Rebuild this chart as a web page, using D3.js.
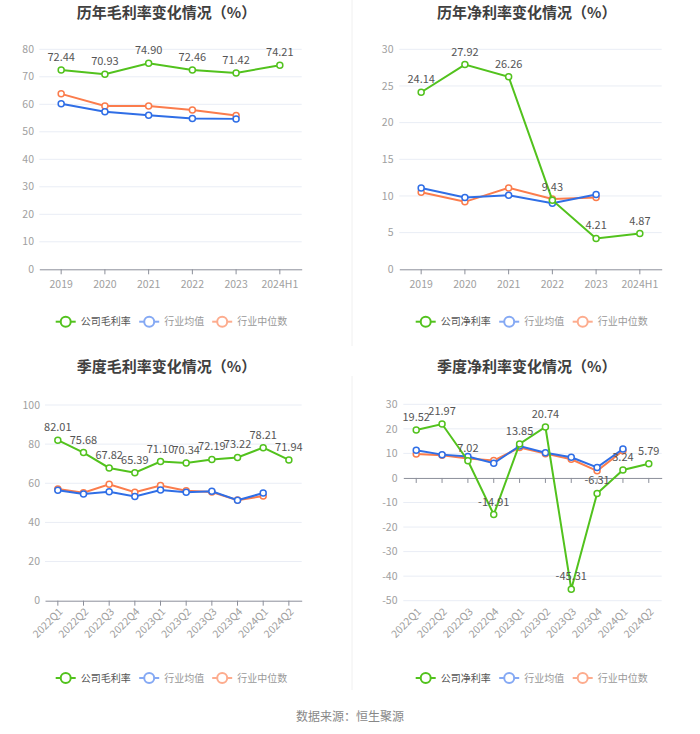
<!DOCTYPE html>
<html>
<head>
<meta charset="utf-8">
<script src="https://cdn.jsdelivr.net/npm/d3@7"></script>
<style>
body { margin:0; background:#fff; }
svg { font-family: "Noto Sans CJK SC", "Noto Sans", sans-serif; }
.title { font-size:15px; font-weight:bold; fill:#404040; text-anchor:middle; }
.ylab { font-size:10.5px; fill:#a0a0a0; text-anchor:end; }
.xlab text { font-size:10.5px; fill:#a0a0a0; }
.vlab { font-size:11px; fill:#555; text-anchor:middle; }
.grid { stroke:#e9edf5; stroke-width:1; }
.legtxt { font-size:10px; }
</style>
</head>
<body>
<div id="chart"></div>
<script>
// categorias
var years = ["2019","2020","2021","2022","2023","2024H1"];
var quarters = ["2022Q1","2022Q2","2022Q3","2022Q4","2023Q1","2023Q2","2023Q3","2023Q4","2024Q1","2024Q2"];

// 历年毛利率
var grossYearCompany = [72.44,70.93,74.90,72.46,71.42,74.21];
var grossYearAvg = [60.2,57.3,56.0,54.8,54.7];
var grossYearMedian = [63.8,59.4,59.4,57.9,55.9];

// 历年净利率
var netYearCompany = [24.14,27.92,26.26,9.43,4.21,4.87];
var netYearAvg = [11.1,9.8,10.1,9.0,10.2];
var netYearMedian = [10.5,9.2,11.1,9.6,9.8];

// 季度毛利率
var grossQCompany = [82.01,75.68,67.82,65.39,71.10,70.34,72.19,73.22,78.21,71.94];
var grossQAvg = [56.4,54.5,55.7,53.3,56.6,55.4,55.9,51.3,55.0];
var grossQMedian = [57.1,55.2,59.5,55.4,58.9,56.2,55.5,51.4,53.5];

// 季度净利率
var netQCompany = [19.52,21.97,7.02,-14.91,13.85,20.74,-45.31,-6.31,3.24,5.79];
var netQAvg = [11.3,9.5,8.7,6.0,13.0,10.3,8.4,4.3,11.8];
var netQMedian = [9.8,9.2,7.9,7.1,12.4,9.9,7.6,2.9,11.1];

// ticks
var ticksGrossYear = [0,10,20,30,40,50,60,70,80];
var ticksNetYear = [0,5,10,15,20,25,30];
var ticksGrossQ = [0,20,40,60,80,100];
var ticksNetQ = [-50,-40,-30,-20,-10,0,10,20,30];

var green = "#52c21d", blue = "#2f6ee6", orange = "#fb7c4c";
var blueLeg = "#85a9f4", orangeLeg = "#fdac8e";

var svg = d3.select("#chart").append("svg").attr("width",700).attr("height",734);

// divisórias
svg.append("line").attr("x1",352).attr("x2",352).attr("y1",0).attr("y2",346).attr("stroke","#f0f0f0");
svg.append("line").attr("x1",352).attr("x2",352).attr("y1",376).attr("y2",690).attr("stroke","#f0f0f0");

function chart(cfg){
	var g = svg.append("g");
	g.append("text").attr("class","title").attr("x",cfg.cx).attr("y",cfg.titleY).text(cfg.title);

	var x = d3.scaleBand().domain(cfg.cats).range([cfg.x0,cfg.x1]).padding(0);
	var y = d3.scaleLinear().domain(d3.extent(cfg.ticks)).range([cfg.yb,cfg.yt]);
	var cx = function(i){ return x(cfg.cats[i]) + x.bandwidth()/2; };

	// grade
	g.selectAll(".grid").data(cfg.ticks.filter(function(t){ return t !== cfg.axisAt; })).enter()
		.append("line").attr("class","grid")
		.attr("x1",cfg.x0).attr("x2",cfg.x1)
		.attr("y1",function(d){ return y(d); }).attr("y2",function(d){ return y(d); });

	g.selectAll(".ylab").data(cfg.ticks).enter().append("text").attr("class","ylab")
		.attr("x",cfg.ylx).attr("y",function(d){ return y(d); }).attr("dy","0.35em")
		.text(function(d){ return d; });

	// eixo x
	var ax = g.append("g").attr("class","xlab")
		.attr("transform","translate(0,"+y(cfg.axisAt)+")")
		.call(d3.axisBottom(x).tickSize(5).tickSizeOuter(0).tickFormat(""));
	ax.select(".domain").attr("stroke","#8c8f9a");
	ax.selectAll(".tick line").attr("stroke","#8c8f9a");

	var lab = g.append("g").attr("class","xlab");
	lab.selectAll("text").data(cfg.cats).enter().append("text")
		.attr("transform",function(d,i){
			var px = cx(i);
			if(cfg.rotate) return "translate("+(px+3)+","+(cfg.yb+9)+") rotate(-45)";
			return "translate("+px+","+(cfg.yb+15)+")";
		})
		.attr("text-anchor", cfg.rotate ? "end" : "middle")
		.attr("dy","0.35em")
		.text(function(d){ return d; });

	// séries
	var series = [
		{v:cfg.median, c:orange},
		{v:cfg.avg, c:blue},
		{v:cfg.company, c:green}
	];
	var line = d3.line().x(function(d,i){ return cx(i); }).y(function(d){ return y(d); });
	series.forEach(function(s){
		g.append("path").datum(s.v).attr("d",line).attr("fill","none")
			.attr("stroke",s.c).attr("stroke-width",2);
		g.selectAll(null).data(s.v).enter().append("circle")
			.attr("cx",function(d,i){ return cx(i); }).attr("cy",function(d){ return y(d); })
			.attr("r",3).attr("fill","#fff").attr("stroke",s.c).attr("stroke-width",1.5);
	});
	g.selectAll(".vlab").data(cfg.company).enter().append("text").attr("class","vlab")
		.attr("x",function(d,i){ return cx(i); }).attr("y",function(d){ return y(d) - 9; })
		.text(function(d){ return d.toFixed(2); });

	// legenda
	var items = [
		{name:cfg.legend, c:green, t:"#555"},
		{name:"行业均值", c:blueLeg, t:"#999"},
		{name:"行业中位数", c:orangeLeg, t:"#999"}
	];
	var lg = g.append("g").attr("transform","translate("+cfg.legX+","+cfg.legY+")");
	var off = [0, cfg.legStep[0], cfg.legStep[1]];
	items.forEach(function(it,i){
		var ig = lg.append("g").attr("transform","translate("+off[i]+",0)");
		ig.append("line").attr("x1",0).attr("x2",20).attr("stroke",it.c).attr("stroke-width",2);
		ig.append("circle").attr("cx",10).attr("r",5).attr("fill","#fff").attr("stroke",it.c).attr("stroke-width",2);
		ig.append("text").attr("class","legtxt").attr("x",25).attr("dy","0.35em").attr("fill",it.t).text(it.name);
	});
}

chart({title:"历年毛利率变化情况（%）", cx:166.5, titleY:17.5, cats:years, ticks:ticksGrossYear,
	x0:39.3, x1:301.7, yt:49.3, yb:269.3, ylx:34, axisAt:0, rotate:false,
	company:grossYearCompany, avg:grossYearAvg, median:grossYearMedian,
	legend:"公司毛利率", legX:55.7, legY:321.7, legStep:[83.5,156.5]});

chart({title:"历年净利率变化情况（%）", cx:526.7, titleY:17.5, cats:years, ticks:ticksNetYear,
	x0:399.3, x1:661.7, yt:49.3, yb:269.3, ylx:393.5, axisAt:0, rotate:false,
	company:netYearCompany, avg:netYearAvg, median:netYearMedian,
	legend:"公司净利率", legX:415.7, legY:321.7, legStep:[83.5,157]});

chart({title:"季度毛利率变化情况（%）", cx:166.5, titleY:372, cats:quarters, ticks:ticksGrossQ,
	x0:45, x1:301.7, yt:405, yb:600.7, ylx:40, axisAt:0, rotate:true,
	company:grossQCompany, avg:grossQAvg, median:grossQMedian,
	legend:"公司毛利率", legX:55.7, legY:678, legStep:[83.5,156.5]});

chart({title:"季度净利率变化情况（%）", cx:526.7, titleY:372, cats:quarters, ticks:ticksNetQ,
	x0:403.3, x1:661.7, yt:404.3, yb:600.7, ylx:397.5, axisAt:0, rotate:true,
	company:netQCompany, avg:netQAvg, median:netQMedian,
	legend:"公司净利率", legX:415.7, legY:678, legStep:[83.5,157]});

svg.append("text").attr("x",350).attr("y",721).attr("text-anchor","middle")
	.attr("font-size","12px").attr("fill","#888").text("数据来源：恒生聚源");
</script>
</body>
</html>
